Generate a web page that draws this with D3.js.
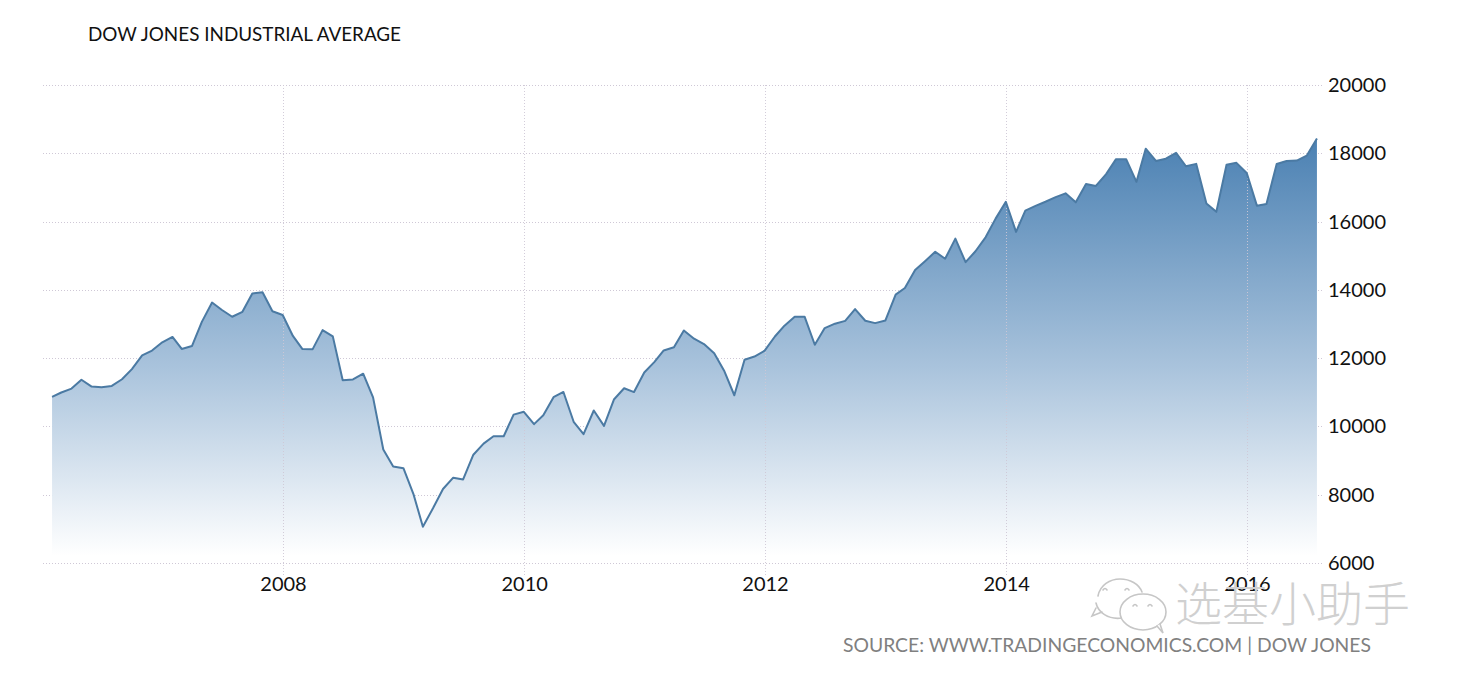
<!DOCTYPE html>
<html>
<head>
<meta charset="utf-8">
<script src="https://cdn.jsdelivr.net/npm/d3@7/dist/d3.min.js"></script>
<style>
  html, body { margin: 0; padding: 0; background: #ffffff; }
  svg { display: block; }
</style>
</head>
<body>
<svg id="chart" width="1460" height="680"></svg>
<script>
// ---- Data (monthly closes, month-end) ----
const title = "DOW JONES INDUSTRIAL AVERAGE";
const sourceText = "SOURCE: WWW.TRADINGECONOMICS.COM | DOW JONES";
const watermarkText = "选基小助手";

const months = [
  "2006-01","2006-02","2006-03","2006-04","2006-05","2006-06","2006-07","2006-08","2006-09","2006-10","2006-11","2006-12",
  "2007-01","2007-02","2007-03","2007-04","2007-05","2007-06","2007-07","2007-08","2007-09","2007-10","2007-11","2007-12",
  "2008-01","2008-02","2008-03","2008-04","2008-05","2008-06","2008-07","2008-08","2008-09","2008-10","2008-11","2008-12",
  "2009-01","2009-02","2009-03","2009-04","2009-05","2009-06","2009-07","2009-08","2009-09","2009-10","2009-11","2009-12",
  "2010-01","2010-02","2010-03","2010-04","2010-05","2010-06","2010-07","2010-08","2010-09","2010-10","2010-11","2010-12",
  "2011-01","2011-02","2011-03","2011-04","2011-05","2011-06","2011-07","2011-08","2011-09","2011-10","2011-11","2011-12",
  "2012-01","2012-02","2012-03","2012-04","2012-05","2012-06","2012-07","2012-08","2012-09","2012-10","2012-11","2012-12",
  "2013-01","2013-02","2013-03","2013-04","2013-05","2013-06","2013-07","2013-08","2013-09","2013-10","2013-11","2013-12",
  "2014-01","2014-02","2014-03","2014-04","2014-05","2014-06","2014-07","2014-08","2014-09","2014-10","2014-11","2014-12",
  "2015-01","2015-02","2015-03","2015-04","2015-05","2015-06","2015-07","2015-08","2015-09","2015-10","2015-11","2015-12",
  "2016-01","2016-02","2016-03","2016-04","2016-05","2016-06","2016-07"
];

const values = [
  10864,10993,11109,11367,11168,11150,11186,11381,11679,12081,12221,12463,
  12622,12269,12354,13063,13628,13409,13212,13358,13896,13930,13372,13265,
  12650,12266,12263,12820,12638,11350,11378,11544,10851,9325,8829,8776,
  8001,7063,7609,8168,8500,8447,9172,9496,9712,9713,10345,10428,
  10067,10325,10857,11009,10137,9774,10466,10015,10788,11118,11006,11578,
  11892,12226,12320,12811,12570,12414,12143,11614,10913,11955,12046,12218,
  12633,12952,13212,13214,12393,12880,13009,13091,13437,13096,13026,13104,
  13861,14054,14579,14840,15116,14910,15500,14810,15130,15546,16086,16577,
  15699,16322,16458,16581,16717,16827,16563,17098,17043,17391,17828,17823,
  17165,18133,17776,17841,18011,17620,17690,16528,16285,17664,17720,17425,
  16466,16517,17685,17774,17787,17930,18432
];

const yTicks = [6000, 8000, 10000, 12000, 14000, 16000, 18000, 20000];
const xTickYears = [2008, 2010, 2012, 2014, 2016];

// ---- Build ----
const svg = d3.select("#chart");
const parseMonth = s => { const [yr, m] = s.split("-").map(Number); return new Date(yr, m, 0); };
const data = months.map((m, i) => ({ date: parseMonth(m), value: values[i] }));

const x = d3.scaleTime()
  .domain([new Date(2008, 0, 1), new Date(2016, 0, 1)])
  .range([283, 1247]);
const y = d3.scaleLinear().domain([6000, 20000]).range([563, 85]);

const gridLeft = 43, gridRight = 1322;

// gradient
const defs = svg.append("defs");
const grad = defs.append("linearGradient")
  .attr("id", "areaGrad")
  .attr("gradientUnits", "userSpaceOnUse")
  .attr("x1", 0).attr("x2", 0)
  .attr("y1", y(18500)).attr("y2", 556);
grad.append("stop").attr("offset", "0%").attr("stop-color", "#4a80b2");
grad.append("stop").attr("offset", "55%").attr("stop-color", "#a9c3dc");
grad.append("stop").attr("offset", "100%").attr("stop-color", "#ffffff");

// horizontal grid
svg.append("g").selectAll("line").data(yTicks).join("line")
  .attr("x1", gridLeft).attr("x2", gridRight)
  .attr("y1", d => Math.round(y(d)) + 0.5).attr("y2", d => Math.round(y(d)) + 0.5)
  .attr("stroke", "#cfc8d6").attr("stroke-width", 1)
  .attr("stroke-dasharray", "1,2");

// area
const area = d3.area()
  .x(d => x(d.date))
  .y0(y(6000))
  .y1(d => y(d.value));
svg.append("path").datum(data)
  .attr("d", area)
  .attr("fill", "url(#areaGrad)");

// vertical grid (year ticks)
const tickDates = xTickYears.map(yr => new Date(yr, 0, 1));
svg.append("g").selectAll("line").data(tickDates).join("line")
  .attr("x1", d => Math.round(x(d)) + 0.5).attr("x2", d => Math.round(x(d)) + 0.5)
  .attr("y1", y(20000)).attr("y2", y(6000) + 12)
  .attr("stroke", "#cfc8d6").attr("stroke-width", 1)
  .attr("stroke-dasharray", "1,2")
  .attr("opacity", 0.9);

// line
const line = d3.line().x(d => x(d.date)).y(d => y(d.value));
svg.append("path").datum(data)
  .attr("d", line)
  .attr("fill", "none")
  .attr("stroke", "#4b7aa3")
  .attr("stroke-width", 2)
  .attr("stroke-linejoin", "round");

// y axis labels (right side)
const fontFam = "Lato, 'Open Sans', sans-serif";
svg.append("g").selectAll("text").data(yTicks).join("text")
  .attr("x", 1328).attr("y", d => y(d))
  .attr("dy", "0.35em")
  .attr("font-family", fontFam).attr("font-size", 20)
  .attr("fill", "#111")
  .text(d => d);

// x axis labels
const xAxis = d3.axisBottom(x).tickValues(tickDates).tickFormat(d3.timeFormat("%Y")).tickSize(0).tickPadding(0);
const gx = svg.append("g").attr("transform", "translate(0,577)").call(xAxis);
gx.select(".domain").remove();
gx.selectAll("text").attr("font-family", fontFam).attr("font-size", 20).attr("fill", "#111").attr("dy", "0.71em");

// title
svg.append("text")
  .attr("x", 88).attr("y", 41)
  .attr("font-family", fontFam).attr("font-size", 20)
  .attr("fill", "#111")
  .attr("textLength", 313).attr("lengthAdjust", "spacingAndGlyphs")
  .text(title);

// watermark icon (two speech bubbles)
const wm = svg.append("g").attr("stroke", "#c6c6c6").attr("stroke-width", 1.6).attr("stroke-linecap", "round");
wm.append("path")
  .attr("d", "M1122,618 C1108,620 1098,612 1096,603 M1098,596 C1100,585 1110,579 1120,579 C1130,579 1139,584 1142,592")
  .attr("fill", "none");
wm.append("path").attr("d", "M1096,608 L1092,616 L1102,612").attr("fill", "none");
wm.append("ellipse").attr("cx", 1143).attr("cy", 612).attr("rx", 23).attr("ry", 18).attr("fill", "#ffffff");
wm.append("path").attr("d", "M1157,626 L1163,633 L1160,624").attr("fill", "#ffffff");
wm.append("path")
  .attr("d", "M1103,590 q2,-3 4,0 M1125,590 q2,-3 4,0 M1133,606 q2,-3 4,0 M1148,606 q2,-3 4,0")
  .attr("fill", "none");
svg.append("text")
  .attr("x", 1175).attr("y", 621)
  .attr("font-family", "'Noto Sans CJK SC', sans-serif").attr("font-size", 47)
  .attr("font-weight", 300)
  .attr("fill", "#d0d0d0")
  .attr("textLength", 235).attr("lengthAdjust", "spacingAndGlyphs")
  .text(watermarkText);

// source
svg.append("text")
  .attr("x", 843).attr("y", 652)
  .attr("font-family", fontFam).attr("font-size", 19.5)
  .attr("fill", "#808080")
  .attr("textLength", 528).attr("lengthAdjust", "spacingAndGlyphs")
  .text(sourceText);
</script>
</body>
</html>
